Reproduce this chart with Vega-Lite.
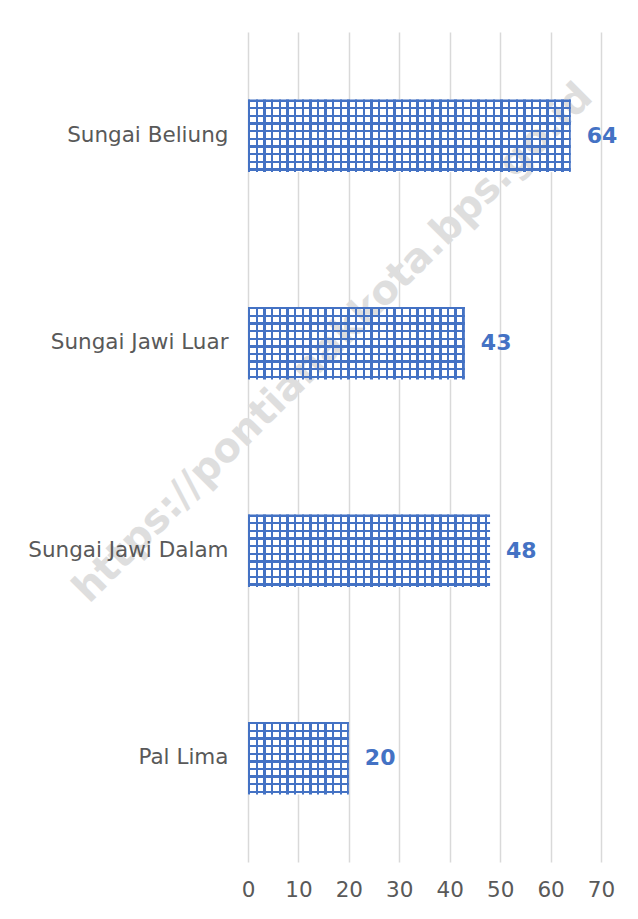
{
  "$schema": "https://vega.github.io/schema/vega-lite/v6.json",
  "width": 353,
  "height": 830,
  "autosize": {"type": "none"},
  "padding": {"left": 248, "top": 32, "right": 37, "bottom": 57},
  "background": "white",
  "config": {"view": {"stroke": null}, "font": "DejaVu Sans"},
  "data": {"values": [
    {"kelurahan": "Sungai Beliung", "jumlah": 64},
    {"kelurahan": "Sungai Jawi Luar", "jumlah": 43},
    {"kelurahan": "Sungai Jawi Dalam", "jumlah": 48},
    {"kelurahan": "Pal Lima", "jumlah": 20}
  ]},
  "encoding": {
    "y": {
      "field": "kelurahan", "type": "nominal", "sort": null,
      "scale": {"domain": ["Sungai Beliung", "Sungai Jawi Luar", "Sungai Jawi Dalam", "Pal Lima"], "paddingInner": 0.65, "paddingOuter": 0.325},
      "axis": {"title": null, "domain": false, "ticks": false, "grid": false, "zindex": 1, "labelFontSize": 21.5, "labelColor": "#595959", "labelPadding": 20, "labelLimit": 400, "labelFont": "DejaVu Sans"}
    },
    "x": {
      "field": "jumlah", "type": "quantitative",
      "scale": {"domain": [0, 70], "nice": false},
      "axis": {"title": null, "domain": false, "ticks": false, "values": [0, 10, 20, 30, 40, 50, 60, 70], "grid": true, "gridColor": "#d9d9d9", "gridWidth": 1.5, "labelFlush": false, "labelFontSize": 21.5, "labelColor": "#595959", "labelPadding": 17, "labelFont": "DejaVu Sans"}
    }
  },
  "layer": [
    {
      "mark": {"type": "bar", "stroke": null, "fill": "#ffffff"}
    },
    {
      "data": {"values": [{"watermark": "https://pontianakkota.bps.go.id", "posx": 16.9, "posy": "Sungai Jawi Luar"}]},
      "mark": {"type": "text", "align": "center", "baseline": "middle", "angle": 315, "fontSize": 40, "fontWeight": "bold", "font": "DejaVu Sans", "fill": "#dedede", "opacity": 1},
      "encoding": {
        "x": {"field": "posx", "type": "quantitative"},
        "y": {"field": "posy", "type": "nominal"},
        "text": {"field": "watermark", "type": "nominal"}
      }
    },
    {
      "mark": {"type": "bar", "stroke": null, "fill": {"gradient": "linear", "x1": 0, "y1": 0, "x2": 0, "y2": 1, "stops": [
        {"offset": 0, "color": "#4472c4"}, {"offset": 0.033, "color": "#4472c4"}, {"offset": 0.033, "color": "transparent"},
        {"offset": 0.1052, "color": "transparent"}, {"offset": 0.1052, "color": "#4472c4"}, {"offset": 0.1382, "color": "#4472c4"}, {"offset": 0.1382, "color": "transparent"},
        {"offset": 0.2105, "color": "transparent"}, {"offset": 0.2105, "color": "#4472c4"}, {"offset": 0.2435, "color": "#4472c4"}, {"offset": 0.2435, "color": "transparent"},
        {"offset": 0.3157, "color": "transparent"}, {"offset": 0.3157, "color": "#4472c4"}, {"offset": 0.3487, "color": "#4472c4"}, {"offset": 0.3487, "color": "transparent"},
        {"offset": 0.4209, "color": "transparent"}, {"offset": 0.4209, "color": "#4472c4"}, {"offset": 0.4539, "color": "#4472c4"}, {"offset": 0.4539, "color": "transparent"},
        {"offset": 0.5262, "color": "transparent"}, {"offset": 0.5262, "color": "#4472c4"}, {"offset": 0.5592, "color": "#4472c4"}, {"offset": 0.5592, "color": "transparent"},
        {"offset": 0.6314, "color": "transparent"}, {"offset": 0.6314, "color": "#4472c4"}, {"offset": 0.6644, "color": "#4472c4"}, {"offset": 0.6644, "color": "transparent"},
        {"offset": 0.7366, "color": "transparent"}, {"offset": 0.7366, "color": "#4472c4"}, {"offset": 0.7696, "color": "#4472c4"}, {"offset": 0.7696, "color": "transparent"},
        {"offset": 0.8418, "color": "transparent"}, {"offset": 0.8418, "color": "#4472c4"}, {"offset": 0.8748, "color": "#4472c4"}, {"offset": 0.8748, "color": "transparent"},
        {"offset": 0.9471, "color": "transparent"}, {"offset": 0.9471, "color": "#4472c4"}, {"offset": 0.9801, "color": "#4472c4"}, {"offset": 0.9801, "color": "transparent"},
        {"offset": 1, "color": "transparent"}
      ]}}
    },
    {
      "transform": [{"filter": "datum.kelurahan === 'Sungai Beliung'"}],
      "mark": {"type": "bar", "stroke": null, "fill": {"gradient": "linear", "x1": 0, "y1": 0, "x2": 1, "y2": 0, "stops": [
        {"offset": 0, "color": "#4472c4"}, {"offset": 0.00744, "color": "#4472c4"}, {"offset": 0.00744, "color": "transparent"},
        {"offset": 0.02369, "color": "transparent"}, {"offset": 0.02369, "color": "#4472c4"}, {"offset": 0.03113, "color": "#4472c4"}, {"offset": 0.03113, "color": "transparent"},
        {"offset": 0.04738, "color": "transparent"}, {"offset": 0.04738, "color": "#4472c4"}, {"offset": 0.05482, "color": "#4472c4"}, {"offset": 0.05482, "color": "transparent"},
        {"offset": 0.07106, "color": "transparent"}, {"offset": 0.07106, "color": "#4472c4"}, {"offset": 0.0785, "color": "#4472c4"}, {"offset": 0.0785, "color": "transparent"},
        {"offset": 0.09475, "color": "transparent"}, {"offset": 0.09475, "color": "#4472c4"}, {"offset": 0.10219, "color": "#4472c4"}, {"offset": 0.10219, "color": "transparent"},
        {"offset": 0.11844, "color": "transparent"}, {"offset": 0.11844, "color": "#4472c4"}, {"offset": 0.12588, "color": "#4472c4"}, {"offset": 0.12588, "color": "transparent"},
        {"offset": 0.14213, "color": "transparent"}, {"offset": 0.14213, "color": "#4472c4"}, {"offset": 0.14957, "color": "#4472c4"}, {"offset": 0.14957, "color": "transparent"},
        {"offset": 0.16582, "color": "transparent"}, {"offset": 0.16582, "color": "#4472c4"}, {"offset": 0.17326, "color": "#4472c4"}, {"offset": 0.17326, "color": "transparent"},
        {"offset": 0.1895, "color": "transparent"}, {"offset": 0.1895, "color": "#4472c4"}, {"offset": 0.19694, "color": "#4472c4"}, {"offset": 0.19694, "color": "transparent"},
        {"offset": 0.21319, "color": "transparent"}, {"offset": 0.21319, "color": "#4472c4"}, {"offset": 0.22063, "color": "#4472c4"}, {"offset": 0.22063, "color": "transparent"},
        {"offset": 0.23688, "color": "transparent"}, {"offset": 0.23688, "color": "#4472c4"}, {"offset": 0.24432, "color": "#4472c4"}, {"offset": 0.24432, "color": "transparent"},
        {"offset": 0.26057, "color": "transparent"}, {"offset": 0.26057, "color": "#4472c4"}, {"offset": 0.26801, "color": "#4472c4"}, {"offset": 0.26801, "color": "transparent"},
        {"offset": 0.28426, "color": "transparent"}, {"offset": 0.28426, "color": "#4472c4"}, {"offset": 0.2917, "color": "#4472c4"}, {"offset": 0.2917, "color": "transparent"},
        {"offset": 0.30794, "color": "transparent"}, {"offset": 0.30794, "color": "#4472c4"}, {"offset": 0.31538, "color": "#4472c4"}, {"offset": 0.31538, "color": "transparent"},
        {"offset": 0.33163, "color": "transparent"}, {"offset": 0.33163, "color": "#4472c4"}, {"offset": 0.33907, "color": "#4472c4"}, {"offset": 0.33907, "color": "transparent"},
        {"offset": 0.35532, "color": "transparent"}, {"offset": 0.35532, "color": "#4472c4"}, {"offset": 0.36276, "color": "#4472c4"}, {"offset": 0.36276, "color": "transparent"},
        {"offset": 0.37901, "color": "transparent"}, {"offset": 0.37901, "color": "#4472c4"}, {"offset": 0.38645, "color": "#4472c4"}, {"offset": 0.38645, "color": "transparent"},
        {"offset": 0.4027, "color": "transparent"}, {"offset": 0.4027, "color": "#4472c4"}, {"offset": 0.41014, "color": "#4472c4"}, {"offset": 0.41014, "color": "transparent"},
        {"offset": 0.42638, "color": "transparent"}, {"offset": 0.42638, "color": "#4472c4"}, {"offset": 0.43382, "color": "#4472c4"}, {"offset": 0.43382, "color": "transparent"},
        {"offset": 0.45007, "color": "transparent"}, {"offset": 0.45007, "color": "#4472c4"}, {"offset": 0.45751, "color": "#4472c4"}, {"offset": 0.45751, "color": "transparent"},
        {"offset": 0.47376, "color": "transparent"}, {"offset": 0.47376, "color": "#4472c4"}, {"offset": 0.4812, "color": "#4472c4"}, {"offset": 0.4812, "color": "transparent"},
        {"offset": 0.49745, "color": "transparent"}, {"offset": 0.49745, "color": "#4472c4"}, {"offset": 0.50489, "color": "#4472c4"}, {"offset": 0.50489, "color": "transparent"},
        {"offset": 0.52114, "color": "transparent"}, {"offset": 0.52114, "color": "#4472c4"}, {"offset": 0.52858, "color": "#4472c4"}, {"offset": 0.52858, "color": "transparent"},
        {"offset": 0.54482, "color": "transparent"}, {"offset": 0.54482, "color": "#4472c4"}, {"offset": 0.55226, "color": "#4472c4"}, {"offset": 0.55226, "color": "transparent"},
        {"offset": 0.56851, "color": "transparent"}, {"offset": 0.56851, "color": "#4472c4"}, {"offset": 0.57595, "color": "#4472c4"}, {"offset": 0.57595, "color": "transparent"},
        {"offset": 0.5922, "color": "transparent"}, {"offset": 0.5922, "color": "#4472c4"}, {"offset": 0.59964, "color": "#4472c4"}, {"offset": 0.59964, "color": "transparent"},
        {"offset": 0.61589, "color": "transparent"}, {"offset": 0.61589, "color": "#4472c4"}, {"offset": 0.62333, "color": "#4472c4"}, {"offset": 0.62333, "color": "transparent"},
        {"offset": 0.63958, "color": "transparent"}, {"offset": 0.63958, "color": "#4472c4"}, {"offset": 0.64702, "color": "#4472c4"}, {"offset": 0.64702, "color": "transparent"},
        {"offset": 0.66326, "color": "transparent"}, {"offset": 0.66326, "color": "#4472c4"}, {"offset": 0.6707, "color": "#4472c4"}, {"offset": 0.6707, "color": "transparent"},
        {"offset": 0.68695, "color": "transparent"}, {"offset": 0.68695, "color": "#4472c4"}, {"offset": 0.69439, "color": "#4472c4"}, {"offset": 0.69439, "color": "transparent"},
        {"offset": 0.71064, "color": "transparent"}, {"offset": 0.71064, "color": "#4472c4"}, {"offset": 0.71808, "color": "#4472c4"}, {"offset": 0.71808, "color": "transparent"},
        {"offset": 0.73433, "color": "transparent"}, {"offset": 0.73433, "color": "#4472c4"}, {"offset": 0.74177, "color": "#4472c4"}, {"offset": 0.74177, "color": "transparent"},
        {"offset": 0.75802, "color": "transparent"}, {"offset": 0.75802, "color": "#4472c4"}, {"offset": 0.76546, "color": "#4472c4"}, {"offset": 0.76546, "color": "transparent"},
        {"offset": 0.7817, "color": "transparent"}, {"offset": 0.7817, "color": "#4472c4"}, {"offset": 0.78914, "color": "#4472c4"}, {"offset": 0.78914, "color": "transparent"},
        {"offset": 0.80539, "color": "transparent"}, {"offset": 0.80539, "color": "#4472c4"}, {"offset": 0.81283, "color": "#4472c4"}, {"offset": 0.81283, "color": "transparent"},
        {"offset": 0.82908, "color": "transparent"}, {"offset": 0.82908, "color": "#4472c4"}, {"offset": 0.83652, "color": "#4472c4"}, {"offset": 0.83652, "color": "transparent"},
        {"offset": 0.85277, "color": "transparent"}, {"offset": 0.85277, "color": "#4472c4"}, {"offset": 0.86021, "color": "#4472c4"}, {"offset": 0.86021, "color": "transparent"},
        {"offset": 0.87646, "color": "transparent"}, {"offset": 0.87646, "color": "#4472c4"}, {"offset": 0.8839, "color": "#4472c4"}, {"offset": 0.8839, "color": "transparent"},
        {"offset": 0.90014, "color": "transparent"}, {"offset": 0.90014, "color": "#4472c4"}, {"offset": 0.90758, "color": "#4472c4"}, {"offset": 0.90758, "color": "transparent"},
        {"offset": 0.92383, "color": "transparent"}, {"offset": 0.92383, "color": "#4472c4"}, {"offset": 0.93127, "color": "#4472c4"}, {"offset": 0.93127, "color": "transparent"},
        {"offset": 0.94752, "color": "transparent"}, {"offset": 0.94752, "color": "#4472c4"}, {"offset": 0.95496, "color": "#4472c4"}, {"offset": 0.95496, "color": "transparent"},
        {"offset": 0.97121, "color": "transparent"}, {"offset": 0.97121, "color": "#4472c4"}, {"offset": 0.97865, "color": "#4472c4"}, {"offset": 0.97865, "color": "transparent"},
        {"offset": 0.9949, "color": "transparent"}, {"offset": 0.9949, "color": "#4472c4"}, {"offset": 1, "color": "#4472c4"}
      ]}}
    },
    {
      "transform": [{"filter": "datum.kelurahan === 'Sungai Jawi Luar'"}],
      "mark": {"type": "bar", "stroke": null, "fill": {"gradient": "linear", "x1": 0, "y1": 0, "x2": 1, "y2": 0, "stops": [
        {"offset": 0, "color": "#4472c4"}, {"offset": 0.01107, "color": "#4472c4"}, {"offset": 0.01107, "color": "transparent"},
        {"offset": 0.03526, "color": "transparent"}, {"offset": 0.03526, "color": "#4472c4"}, {"offset": 0.04633, "color": "#4472c4"}, {"offset": 0.04633, "color": "transparent"},
        {"offset": 0.07051, "color": "transparent"}, {"offset": 0.07051, "color": "#4472c4"}, {"offset": 0.08158, "color": "#4472c4"}, {"offset": 0.08158, "color": "transparent"},
        {"offset": 0.10577, "color": "transparent"}, {"offset": 0.10577, "color": "#4472c4"}, {"offset": 0.11684, "color": "#4472c4"}, {"offset": 0.11684, "color": "transparent"},
        {"offset": 0.14102, "color": "transparent"}, {"offset": 0.14102, "color": "#4472c4"}, {"offset": 0.15209, "color": "#4472c4"}, {"offset": 0.15209, "color": "transparent"},
        {"offset": 0.17628, "color": "transparent"}, {"offset": 0.17628, "color": "#4472c4"}, {"offset": 0.18735, "color": "#4472c4"}, {"offset": 0.18735, "color": "transparent"},
        {"offset": 0.21153, "color": "transparent"}, {"offset": 0.21153, "color": "#4472c4"}, {"offset": 0.2226, "color": "#4472c4"}, {"offset": 0.2226, "color": "transparent"},
        {"offset": 0.24679, "color": "transparent"}, {"offset": 0.24679, "color": "#4472c4"}, {"offset": 0.25786, "color": "#4472c4"}, {"offset": 0.25786, "color": "transparent"},
        {"offset": 0.28205, "color": "transparent"}, {"offset": 0.28205, "color": "#4472c4"}, {"offset": 0.29312, "color": "#4472c4"}, {"offset": 0.29312, "color": "transparent"},
        {"offset": 0.3173, "color": "transparent"}, {"offset": 0.3173, "color": "#4472c4"}, {"offset": 0.32837, "color": "#4472c4"}, {"offset": 0.32837, "color": "transparent"},
        {"offset": 0.35256, "color": "transparent"}, {"offset": 0.35256, "color": "#4472c4"}, {"offset": 0.36363, "color": "#4472c4"}, {"offset": 0.36363, "color": "transparent"},
        {"offset": 0.38781, "color": "transparent"}, {"offset": 0.38781, "color": "#4472c4"}, {"offset": 0.39888, "color": "#4472c4"}, {"offset": 0.39888, "color": "transparent"},
        {"offset": 0.42307, "color": "transparent"}, {"offset": 0.42307, "color": "#4472c4"}, {"offset": 0.43414, "color": "#4472c4"}, {"offset": 0.43414, "color": "transparent"},
        {"offset": 0.45833, "color": "transparent"}, {"offset": 0.45833, "color": "#4472c4"}, {"offset": 0.4694, "color": "#4472c4"}, {"offset": 0.4694, "color": "transparent"},
        {"offset": 0.49358, "color": "transparent"}, {"offset": 0.49358, "color": "#4472c4"}, {"offset": 0.50465, "color": "#4472c4"}, {"offset": 0.50465, "color": "transparent"},
        {"offset": 0.52884, "color": "transparent"}, {"offset": 0.52884, "color": "#4472c4"}, {"offset": 0.53991, "color": "#4472c4"}, {"offset": 0.53991, "color": "transparent"},
        {"offset": 0.56409, "color": "transparent"}, {"offset": 0.56409, "color": "#4472c4"}, {"offset": 0.57516, "color": "#4472c4"}, {"offset": 0.57516, "color": "transparent"},
        {"offset": 0.59935, "color": "transparent"}, {"offset": 0.59935, "color": "#4472c4"}, {"offset": 0.61042, "color": "#4472c4"}, {"offset": 0.61042, "color": "transparent"},
        {"offset": 0.63461, "color": "transparent"}, {"offset": 0.63461, "color": "#4472c4"}, {"offset": 0.64568, "color": "#4472c4"}, {"offset": 0.64568, "color": "transparent"},
        {"offset": 0.66986, "color": "transparent"}, {"offset": 0.66986, "color": "#4472c4"}, {"offset": 0.68093, "color": "#4472c4"}, {"offset": 0.68093, "color": "transparent"},
        {"offset": 0.70512, "color": "transparent"}, {"offset": 0.70512, "color": "#4472c4"}, {"offset": 0.71619, "color": "#4472c4"}, {"offset": 0.71619, "color": "transparent"},
        {"offset": 0.74037, "color": "transparent"}, {"offset": 0.74037, "color": "#4472c4"}, {"offset": 0.75144, "color": "#4472c4"}, {"offset": 0.75144, "color": "transparent"},
        {"offset": 0.77563, "color": "transparent"}, {"offset": 0.77563, "color": "#4472c4"}, {"offset": 0.7867, "color": "#4472c4"}, {"offset": 0.7867, "color": "transparent"},
        {"offset": 0.81089, "color": "transparent"}, {"offset": 0.81089, "color": "#4472c4"}, {"offset": 0.82196, "color": "#4472c4"}, {"offset": 0.82196, "color": "transparent"},
        {"offset": 0.84614, "color": "transparent"}, {"offset": 0.84614, "color": "#4472c4"}, {"offset": 0.85721, "color": "#4472c4"}, {"offset": 0.85721, "color": "transparent"},
        {"offset": 0.8814, "color": "transparent"}, {"offset": 0.8814, "color": "#4472c4"}, {"offset": 0.89247, "color": "#4472c4"}, {"offset": 0.89247, "color": "transparent"},
        {"offset": 0.91665, "color": "transparent"}, {"offset": 0.91665, "color": "#4472c4"}, {"offset": 0.92772, "color": "#4472c4"}, {"offset": 0.92772, "color": "transparent"},
        {"offset": 0.95191, "color": "transparent"}, {"offset": 0.95191, "color": "#4472c4"}, {"offset": 0.96298, "color": "#4472c4"}, {"offset": 0.96298, "color": "transparent"},
        {"offset": 0.98717, "color": "transparent"}, {"offset": 0.98717, "color": "#4472c4"}, {"offset": 1, "color": "#4472c4"}
      ]}}
    },
    {
      "transform": [{"filter": "datum.kelurahan === 'Sungai Jawi Dalam'"}],
      "mark": {"type": "bar", "stroke": null, "fill": {"gradient": "linear", "x1": 0, "y1": 0, "x2": 1, "y2": 0, "stops": [
        {"offset": 0, "color": "#4472c4"}, {"offset": 0.00992, "color": "#4472c4"}, {"offset": 0.00992, "color": "transparent"},
        {"offset": 0.03158, "color": "transparent"}, {"offset": 0.03158, "color": "#4472c4"}, {"offset": 0.0415, "color": "#4472c4"}, {"offset": 0.0415, "color": "transparent"},
        {"offset": 0.06317, "color": "transparent"}, {"offset": 0.06317, "color": "#4472c4"}, {"offset": 0.07309, "color": "#4472c4"}, {"offset": 0.07309, "color": "transparent"},
        {"offset": 0.09475, "color": "transparent"}, {"offset": 0.09475, "color": "#4472c4"}, {"offset": 0.10467, "color": "#4472c4"}, {"offset": 0.10467, "color": "transparent"},
        {"offset": 0.12633, "color": "transparent"}, {"offset": 0.12633, "color": "#4472c4"}, {"offset": 0.13625, "color": "#4472c4"}, {"offset": 0.13625, "color": "transparent"},
        {"offset": 0.15792, "color": "transparent"}, {"offset": 0.15792, "color": "#4472c4"}, {"offset": 0.16784, "color": "#4472c4"}, {"offset": 0.16784, "color": "transparent"},
        {"offset": 0.1895, "color": "transparent"}, {"offset": 0.1895, "color": "#4472c4"}, {"offset": 0.19942, "color": "#4472c4"}, {"offset": 0.19942, "color": "transparent"},
        {"offset": 0.22108, "color": "transparent"}, {"offset": 0.22108, "color": "#4472c4"}, {"offset": 0.231, "color": "#4472c4"}, {"offset": 0.231, "color": "transparent"},
        {"offset": 0.25267, "color": "transparent"}, {"offset": 0.25267, "color": "#4472c4"}, {"offset": 0.26259, "color": "#4472c4"}, {"offset": 0.26259, "color": "transparent"},
        {"offset": 0.28425, "color": "transparent"}, {"offset": 0.28425, "color": "#4472c4"}, {"offset": 0.29417, "color": "#4472c4"}, {"offset": 0.29417, "color": "transparent"},
        {"offset": 0.31583, "color": "transparent"}, {"offset": 0.31583, "color": "#4472c4"}, {"offset": 0.32575, "color": "#4472c4"}, {"offset": 0.32575, "color": "transparent"},
        {"offset": 0.34742, "color": "transparent"}, {"offset": 0.34742, "color": "#4472c4"}, {"offset": 0.35734, "color": "#4472c4"}, {"offset": 0.35734, "color": "transparent"},
        {"offset": 0.379, "color": "transparent"}, {"offset": 0.379, "color": "#4472c4"}, {"offset": 0.38892, "color": "#4472c4"}, {"offset": 0.38892, "color": "transparent"},
        {"offset": 0.41058, "color": "transparent"}, {"offset": 0.41058, "color": "#4472c4"}, {"offset": 0.4205, "color": "#4472c4"}, {"offset": 0.4205, "color": "transparent"},
        {"offset": 0.44217, "color": "transparent"}, {"offset": 0.44217, "color": "#4472c4"}, {"offset": 0.45209, "color": "#4472c4"}, {"offset": 0.45209, "color": "transparent"},
        {"offset": 0.47375, "color": "transparent"}, {"offset": 0.47375, "color": "#4472c4"}, {"offset": 0.48367, "color": "#4472c4"}, {"offset": 0.48367, "color": "transparent"},
        {"offset": 0.50533, "color": "transparent"}, {"offset": 0.50533, "color": "#4472c4"}, {"offset": 0.51525, "color": "#4472c4"}, {"offset": 0.51525, "color": "transparent"},
        {"offset": 0.53692, "color": "transparent"}, {"offset": 0.53692, "color": "#4472c4"}, {"offset": 0.54684, "color": "#4472c4"}, {"offset": 0.54684, "color": "transparent"},
        {"offset": 0.5685, "color": "transparent"}, {"offset": 0.5685, "color": "#4472c4"}, {"offset": 0.57842, "color": "#4472c4"}, {"offset": 0.57842, "color": "transparent"},
        {"offset": 0.60008, "color": "transparent"}, {"offset": 0.60008, "color": "#4472c4"}, {"offset": 0.61, "color": "#4472c4"}, {"offset": 0.61, "color": "transparent"},
        {"offset": 0.63167, "color": "transparent"}, {"offset": 0.63167, "color": "#4472c4"}, {"offset": 0.64159, "color": "#4472c4"}, {"offset": 0.64159, "color": "transparent"},
        {"offset": 0.66325, "color": "transparent"}, {"offset": 0.66325, "color": "#4472c4"}, {"offset": 0.67317, "color": "#4472c4"}, {"offset": 0.67317, "color": "transparent"},
        {"offset": 0.69483, "color": "transparent"}, {"offset": 0.69483, "color": "#4472c4"}, {"offset": 0.70475, "color": "#4472c4"}, {"offset": 0.70475, "color": "transparent"},
        {"offset": 0.72642, "color": "transparent"}, {"offset": 0.72642, "color": "#4472c4"}, {"offset": 0.73634, "color": "#4472c4"}, {"offset": 0.73634, "color": "transparent"},
        {"offset": 0.758, "color": "transparent"}, {"offset": 0.758, "color": "#4472c4"}, {"offset": 0.76792, "color": "#4472c4"}, {"offset": 0.76792, "color": "transparent"},
        {"offset": 0.78958, "color": "transparent"}, {"offset": 0.78958, "color": "#4472c4"}, {"offset": 0.7995, "color": "#4472c4"}, {"offset": 0.7995, "color": "transparent"},
        {"offset": 0.82117, "color": "transparent"}, {"offset": 0.82117, "color": "#4472c4"}, {"offset": 0.83109, "color": "#4472c4"}, {"offset": 0.83109, "color": "transparent"},
        {"offset": 0.85275, "color": "transparent"}, {"offset": 0.85275, "color": "#4472c4"}, {"offset": 0.86267, "color": "#4472c4"}, {"offset": 0.86267, "color": "transparent"},
        {"offset": 0.88433, "color": "transparent"}, {"offset": 0.88433, "color": "#4472c4"}, {"offset": 0.89425, "color": "#4472c4"}, {"offset": 0.89425, "color": "transparent"},
        {"offset": 0.91592, "color": "transparent"}, {"offset": 0.91592, "color": "#4472c4"}, {"offset": 0.92584, "color": "#4472c4"}, {"offset": 0.92584, "color": "transparent"},
        {"offset": 0.9475, "color": "transparent"}, {"offset": 0.9475, "color": "#4472c4"}, {"offset": 0.95742, "color": "#4472c4"}, {"offset": 0.95742, "color": "transparent"},
        {"offset": 0.97908, "color": "transparent"}, {"offset": 0.97908, "color": "#4472c4"}, {"offset": 0.989, "color": "#4472c4"}, {"offset": 0.989, "color": "transparent"}
      ]}}
    },
    {
      "transform": [{"filter": "datum.kelurahan === 'Pal Lima'"}],
      "mark": {"type": "bar", "stroke": null, "fill": {"gradient": "linear", "x1": 0, "y1": 0, "x2": 1, "y2": 0, "stops": [
        {"offset": 0, "color": "#4472c4"}, {"offset": 0.0238, "color": "#4472c4"}, {"offset": 0.0238, "color": "transparent"},
        {"offset": 0.0758, "color": "transparent"}, {"offset": 0.0758, "color": "#4472c4"}, {"offset": 0.0996, "color": "#4472c4"}, {"offset": 0.0996, "color": "transparent"},
        {"offset": 0.1516, "color": "transparent"}, {"offset": 0.1516, "color": "#4472c4"}, {"offset": 0.1754, "color": "#4472c4"}, {"offset": 0.1754, "color": "transparent"},
        {"offset": 0.2274, "color": "transparent"}, {"offset": 0.2274, "color": "#4472c4"}, {"offset": 0.2512, "color": "#4472c4"}, {"offset": 0.2512, "color": "transparent"},
        {"offset": 0.3032, "color": "transparent"}, {"offset": 0.3032, "color": "#4472c4"}, {"offset": 0.327, "color": "#4472c4"}, {"offset": 0.327, "color": "transparent"},
        {"offset": 0.379, "color": "transparent"}, {"offset": 0.379, "color": "#4472c4"}, {"offset": 0.4028, "color": "#4472c4"}, {"offset": 0.4028, "color": "transparent"},
        {"offset": 0.4548, "color": "transparent"}, {"offset": 0.4548, "color": "#4472c4"}, {"offset": 0.4786, "color": "#4472c4"}, {"offset": 0.4786, "color": "transparent"},
        {"offset": 0.5306, "color": "transparent"}, {"offset": 0.5306, "color": "#4472c4"}, {"offset": 0.5544, "color": "#4472c4"}, {"offset": 0.5544, "color": "transparent"},
        {"offset": 0.6064, "color": "transparent"}, {"offset": 0.6064, "color": "#4472c4"}, {"offset": 0.6302, "color": "#4472c4"}, {"offset": 0.6302, "color": "transparent"},
        {"offset": 0.6822, "color": "transparent"}, {"offset": 0.6822, "color": "#4472c4"}, {"offset": 0.706, "color": "#4472c4"}, {"offset": 0.706, "color": "transparent"},
        {"offset": 0.758, "color": "transparent"}, {"offset": 0.758, "color": "#4472c4"}, {"offset": 0.7818, "color": "#4472c4"}, {"offset": 0.7818, "color": "transparent"},
        {"offset": 0.8338, "color": "transparent"}, {"offset": 0.8338, "color": "#4472c4"}, {"offset": 0.8576, "color": "#4472c4"}, {"offset": 0.8576, "color": "transparent"},
        {"offset": 0.9096, "color": "transparent"}, {"offset": 0.9096, "color": "#4472c4"}, {"offset": 0.9334, "color": "#4472c4"}, {"offset": 0.9334, "color": "transparent"},
        {"offset": 0.9854, "color": "transparent"}, {"offset": 0.9854, "color": "#4472c4"}, {"offset": 1, "color": "#4472c4"}
      ]}}
    },
    {
      "mark": {"type": "text", "align": "left", "baseline": "middle", "dx": 16, "fontSize": 22, "fontWeight": "bold", "font": "DejaVu Sans", "color": "#4472c4"},
      "encoding": {"text": {"field": "jumlah", "type": "quantitative"}}
    }
  ]
}
